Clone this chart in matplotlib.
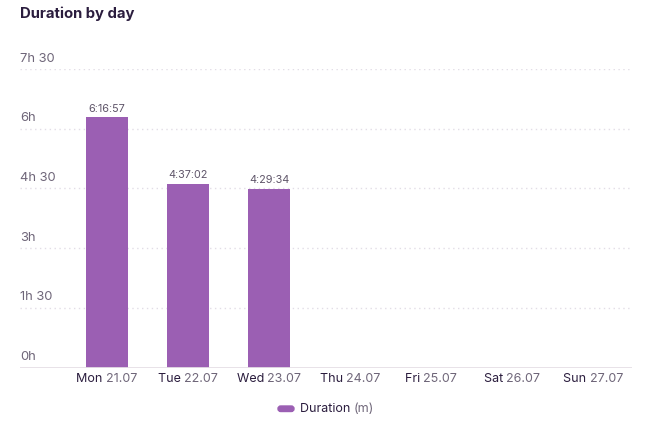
import matplotlib
matplotlib.use("Agg")
import matplotlib.pyplot as plt
from matplotlib.patches import FancyBboxPatch
from matplotlib import transforms

plt.rcParams["font.family"] = ["Inter", "DejaVu Sans"]

days = ["Mon", "Tue", "Wed", "Thu", "Fri", "Sat", "Sun"]
dates = ["21.07", "22.07", "23.07", "24.07", "25.07", "26.07", "27.07"]
# duration in minutes
durations = [376.95, 277.03, 269.57, 0, 0, 0, 0]
bar_labels = ["6:16:57", "4:37:02", "4:29:34", "", "", "", ""]
y_ticks = [0, 90, 180, 270, 360, 450]
y_tick_labels = ["0h", "1h 30", "3h", "4h 30", "6h", "7h 30"]

BAR = "#9b5fb3"
DARK = "#2b1d3e"
GREY = "#6f6679"

W, H = 651, 428
fig = plt.figure(figsize=(W / 100, H / 100), dpi=100)
ax = fig.add_axes([20 / W, (H - 367.5) / H, 612 / W, 298.5 / H])

x = list(range(len(days)))
ax.bar(x, durations, width=0.51, color=BAR, zorder=2)
ax.set_xlim(-1.074, 6.48)
ax.set_ylim(0, 450)

for xi, v, lab in zip(x, durations, bar_labels):
    if lab:
        ax.annotate(lab, (xi, v), xytext=(0, 2.5), textcoords="offset points",
                    ha="center", va="bottom", fontsize=7.8, color="#5f5569")

for t, lab in zip(y_ticks, y_tick_labels):
    if t > 0:
        ax.axhline(t, color="#e2dde6", lw=1, ls=(0, (1, 2.5)), zorder=1)
    ax.annotate(lab, (0, t), xycoords=("axes fraction", "data"),
                xytext=(0, 3.2), textcoords="offset points",
                ha="left", va="bottom", fontsize=9.3, color=GREY)
ax.axhline(0, color="#e6dfe6", lw=2, zorder=3)

for s in ax.spines.values():
    s.set_visible(False)
ax.set_xticks([])
ax.set_yticks([])

# two-colour category labels: day name dark, date grey
renderer = fig.canvas.get_renderer()
for xi, d, dt in zip(x, days, dates):
    base = transforms.blended_transform_factory(ax.transData, fig.transFigure)
    t1 = fig.text(0, 0, d + " ", fontsize=9, color=DARK)
    t2 = fig.text(0, 0, dt, fontsize=9, color=GREY)
    w1 = t1.get_window_extent(renderer).width
    w2 = t2.get_window_extent(renderer).width
    start = -(w1 + w2) / 2
    yy = (H - 379) / H
    t1.set_transform(transforms.offset_copy(base, fig, x=start, y=0, units="dots"))
    t1.set_position((xi, yy))
    t1.set_va("center")
    t2.set_transform(transforms.offset_copy(base, fig, x=start + w1, y=0, units="dots"))
    t2.set_position((xi, yy))
    t2.set_va("center")

fig.text(20 / W, (H - 14) / H, "Duration by day", fontsize=10.7,
         fontweight="bold", color=DARK, va="center", ha="left")

# legend
fig.patches.append(FancyBboxPatch((278 / W, (H - 411.5) / H), 16 / W, 5.5 / H,
                                  boxstyle="round,pad=0,rounding_size=0.0042",
                                  transform=fig.transFigure, color=BAR,
                                  mutation_aspect=W / H))
lt = fig.text(300 / W, (H - 409) / H, "Duration ", fontsize=9, color=DARK, va="center")
lw = lt.get_window_extent(renderer).width
fig.text(300 / W + lw / W, (H - 409) / H, "(m)", fontsize=9, color=GREY, va="center")

fig.savefig("out.png", dpi=100, facecolor="white")
